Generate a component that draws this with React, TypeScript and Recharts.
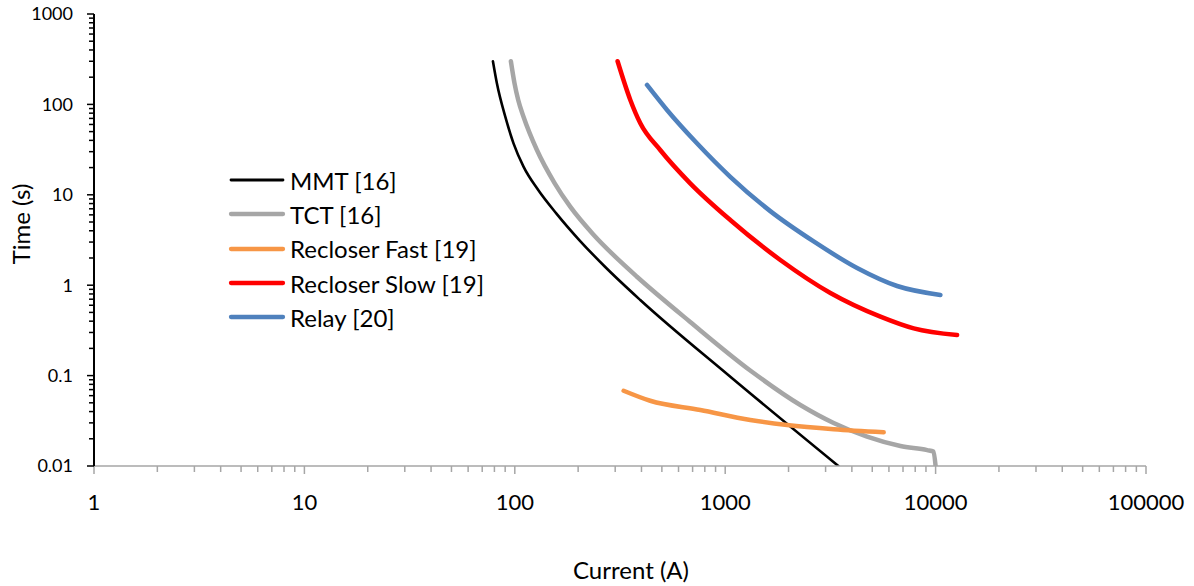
import React from 'react';
import { LineChart, Line, XAxis, YAxis, Legend, Label } from 'recharts';

// Time–current characteristic curves (current in A, time in s)
const mmtCurrent = [78.7, 82.2, 90.1, 98.6, 110, 129.2, 157.4, 202.5, 269.1, 394.8, 1034, 3450];
const mmtTime = [300, 171, 73.1, 37.1, 20.5, 11.3, 6.24, 3.16, 1.59, 0.686, 0.1015, 0.01];

const tctCurrent = [95.8, 99.7, 103.8, 110, 127.4, 154.8, 183.4, 236.7, 317.1, 380.7, 682, 1345, 2276, 3276, 4722, 6806, 9120, 9772, 10000];
const tctTime = [300, 171, 111.9, 73.1, 31.3, 13.4, 7.39, 3.62, 1.83, 1.24, 0.392, 0.1096, 0.0473, 0.0299, 0.0211, 0.01663, 0.015, 0.01445, 0.01];

const fastCurrent = [329, 440, 762, 1316, 1968, 3280, 5665];
const fastTime = [0.068, 0.0527, 0.0416, 0.0323, 0.0284, 0.0255, 0.0236];

const slowCurrent = [308, 354, 395, 491, 682, 1057, 1828, 3162, 5467, 7870, 12650];
const slowTime = [300, 112, 61.8, 31.3, 13.4, 5.26, 1.9, 0.82, 0.449, 0.333, 0.281];

const relayCurrent = [425, 529, 734, 1057, 1638, 2633, 4235, 6561, 10540];
const relayTime = [164, 86.7, 37.1, 15.8, 6.6, 3.05, 1.55, 0.98, 0.78];

// Axis decades
const xMajorTicks = [1, 10, 100, 1000, 10000, 100000];
const yMajorTicks = [0.01, 0.1, 1, 10, 100, 1000];
const minorSteps = [2, 3, 4, 5, 6, 7, 8, 9];

const withMinor = (majors: number[]) => {
  const out: number[] = [];
  majors.forEach((m, i) => {
    out.push(m);
    if (i < majors.length - 1) minorSteps.forEach((k) => out.push(m * k));
  });
  return out;
};

const xTicks = withMinor(xMajorTicks);
const yTicks = withMinor(yMajorTicks);

const toPoints = (xs: number[], ys: number[]) => xs.map((c, i) => ({ current: c, time: ys[i] }));

const series = [
  { name: 'MMT [16]', color: '#000000', width: 2.6, data: toPoints(mmtCurrent, mmtTime) },
  { name: 'TCT [16]', color: '#A6A6A6', width: 4.5, data: toPoints(tctCurrent, tctTime) },
  { name: 'Recloser Fast [19]', color: '#F79646', width: 4.5, data: toPoints(fastCurrent, fastTime) },
  { name: 'Recloser Slow [19]', color: '#FF0000', width: 4.5, data: toPoints(slowCurrent, slowTime) },
  { name: 'Relay [20]', color: '#4F81BD', width: 4.5, data: toPoints(relayCurrent, relayTime) },
];

const FONT = 'Lato, "Open Sans", sans-serif';

const isMajor = (v: number) => {
  const l = Math.log10(v);
  return Math.abs(l - Math.round(l)) < 1e-6;
};

const fmt = (v: number) => {
  const p = Math.round(Math.log10(v));
  return p >= 0 ? String(Math.pow(10, p)) : (Math.pow(10, p)).toFixed(-p);
};

const XTick = (props: any) => {
  const { x, y, payload } = props;
  const v = payload.value;
  const major = isMajor(v);
  return (
    <g>
      <line x1={x} x2={x} y1={y} y2={y + (major ? 8 : 6)} stroke="#A6A6A6" strokeWidth={1.5} />
      {major && (
        <text x={x} y={y + 44} textAnchor="middle" fontSize={22} fontFamily={FONT} fill="#000">
          {fmt(v)}
        </text>
      )}
    </g>
  );
};

const YTick = (props: any) => {
  const { x, y, payload } = props;
  const v = payload.value;
  const major = isMajor(v);
  return (
    <g>
      <line x1={x} x2={x - (major ? 7 : 5)} y1={y} y2={y} stroke="#000" strokeWidth={1.5} />
      {major && (
        <text x={x - 21} y={y} dy="0.35em" textAnchor="end" fontSize={18} fontFamily={FONT} fill="#000">
          {fmt(v)}
        </text>
      )}
    </g>
  );
};

const LegendBox = () => (
  <div style={{ fontFamily: FONT, fontSize: 24, color: '#000' }}>
    {series.map((s) => (
      <div key={s.name} style={{ display: 'flex', alignItems: 'center', height: 34.3 }}>
        <svg width={60} height={10} style={{ display: 'block' }}>
          <line x1={4} x2={56} y1={5} y2={5} stroke={s.color} strokeWidth={s.width < 3 ? 2.8 : 4.3} strokeLinecap="round" />
        </svg>
        <span style={{ marginLeft: 3, whiteSpace: 'nowrap' }}>{s.name}</span>
      </div>
    ))}
  </div>
);

export default function App() {
  return (
    <div style={{ position: 'absolute', left: 0, top: 0, background: '#fff' }}>
      <LineChart width={1194} height={586} margin={{ top: 14, right: 48, left: 0, bottom: 60 }}>
        <XAxis
          dataKey="current"
          type="number"
          scale="log"
          domain={[1, 100000]}
          ticks={xTicks}
          interval={0}
          allowDataOverflow
          tickSize={0}
          tickMargin={0}
          tickLine={false}
          tick={<XTick />}
          axisLine={{ stroke: '#A6A6A6', strokeWidth: 1.5 }}
          height={60}
        >
          <Label
            content={() => (
              <text x={631} y={579} textAnchor="middle" fontSize={24} fontFamily={FONT} fill="#000">
                Current (A)
              </text>
            )}
          />
        </XAxis>
        <YAxis
          dataKey="time"
          type="number"
          scale="log"
          domain={[0.01, 1000]}
          ticks={yTicks}
          interval={0}
          allowDataOverflow
          tickSize={0}
          tickMargin={0}
          tickLine={false}
          tick={<YTick />}
          axisLine={{ stroke: '#000', strokeWidth: 2 }}
          width={94}
        >
          <Label
            content={() => (
              <text
                x={20}
                y={224}
                transform="rotate(-90 20 224)"
                textAnchor="middle"
                dominantBaseline="central"
                fontSize={24}
                fontFamily={FONT}
                fill="#000"
              >
                Time (s)
              </text>
            )}
          />
        </YAxis>
        {series.map((s) => (
          <Line
            key={s.name}
            name={s.name}
            data={s.data}
            dataKey="time"
            type="monotone"
            stroke={s.color}
            strokeWidth={s.width}
            strokeLinecap="round"
            strokeLinejoin="round"
            dot={false}
            activeDot={false}
            isAnimationActive={false}
          />
        ))}
        <Legend
          layout="vertical"
          align="center"
          verticalAlign="middle"
          content={<LegendBox />}
          wrapperStyle={{ position: 'absolute', left: 227, top: 163, width: 340 }}
        />
      </LineChart>
    </div>
  );
}
